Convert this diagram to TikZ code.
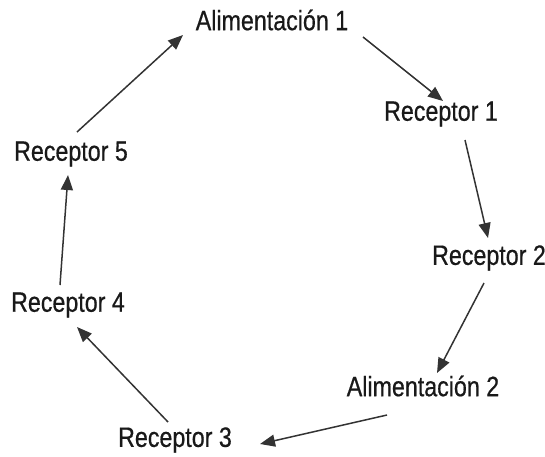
\documentclass[tikz,border=0pt]{standalone}
\usepackage{fontspec}
\setmainfont{Liberation Sans}[FakeStretch=0.83,FakeBold=0.6]
\usetikzlibrary{arrows.meta,calc}
\begin{document}
\begin{tikzpicture}[x=1pt,y=-1pt,
  lbl/.style={inner sep=0pt, font=\fontsize{28}{32}\selectfont, text=black!90},
  arr/.style={draw=black!80, line width=1.5pt, -{Triangle[length=15pt,width=12pt]}}]
\useasboundingbox (0,0) rectangle (545,456);
\node[lbl] (a1) at (272,20) {Alimentación 1};
\node[lbl] (r1) at (441,114) {Receptor 1};
\node[lbl] (r2) at (489,258) {Receptor 2};
\node[lbl] (a2) at (423,386) {Alimentación 2};
\node[lbl] (r3) at (175,440) {Receptor 3};
\node[lbl] (r4) at (68,305) {Receptor 4};
\node[lbl] (r5) at (71,154) {Receptor 5};
\draw[arr] ($(a1)+(91,17)$) -- ($(r1)+(2,-13)$);
\draw[arr] ($(r1)+(24,26)$) -- ($(r2)+(-1,-20)$);
\draw[arr] ($(r2)+(-5,25)$) -- ($(a2)+(14,-13)$);
\draw[arr] ($(a2)+(-36,29)$) -- ($(r3)+(85,4)$);
\draw[arr] ($(r3)+(-7,-18)$) -- ($(r4)+(9,22)$);
\draw[arr] ($(r4)+(-8,-20)$) -- ($(r5)+(-3,21)$);
\draw[arr] ($(r5)+(6,-22)$) -- ($(a1)+(-89,15)$);
\end{tikzpicture}
\end{document}
